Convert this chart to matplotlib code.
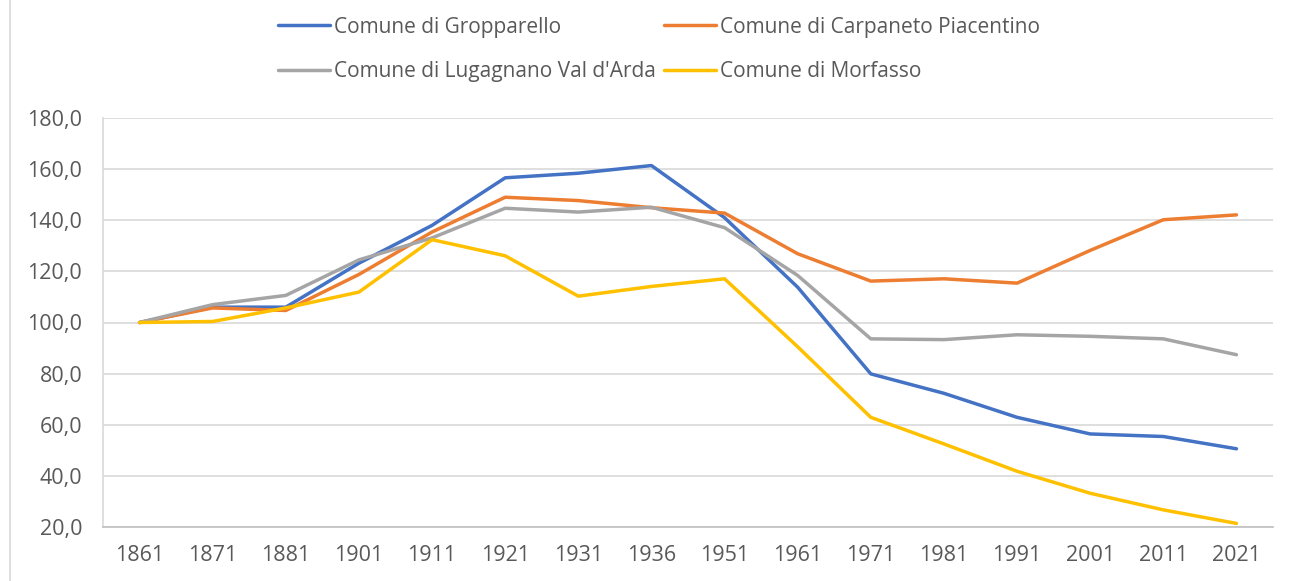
import matplotlib
matplotlib.use("Agg")
import matplotlib.pyplot as plt
from matplotlib.lines import Line2D

years = ['1861', '1871', '1881', '1901', '1911', '1921', '1931', '1936',
         '1951', '1961', '1971', '1981', '1991', '2001', '2011', '2021']
gropparello = [100, 106.0, 106.0, 123.2, 138.0, 156.6, 158.4, 161.4,
               141.0, 113.8, 79.9, 72.3, 62.9, 56.4, 55.4, 50.6]
carpaneto = [100, 105.7, 104.7, 118.8, 135.4, 149.0, 147.7, 144.9,
             142.8, 126.9, 116.2, 117.1, 115.4, 128.2, 140.2, 142.1]
lugagnano = [100, 107.0, 110.6, 124.5, 133.1, 144.7, 143.2, 145.1,
             137.1, 118.4, 93.6, 93.3, 95.2, 94.6, 93.6, 87.4]
morfasso = [100, 100.4, 105.7, 111.9, 132.4, 126.1, 110.3, 114.1,
            117.1, 90.5, 62.9, 52.5, 41.8, 33.2, 26.7, 21.4]
labels = ['Comune di Gropparello', 'Comune di Carpaneto Piacentino',
          "Comune di Lugagnano Val d'Arda", 'Comune di Morfasso']
yticks = [20, 40, 60, 80, 100, 120, 140, 160, 180]

colors = ['#4472C4', '#ED7D31', '#A5A5A5', '#FFC000']
txt = '#595959'

plt.rcParams['font.family'] = ['Open Sans', 'DejaVu Sans']

fig = plt.figure(figsize=(12.9, 5.81), dpi=100)
ax = fig.add_axes([103 / 1290, 1 - 527 / 581, (1273 - 103) / 1290, (527 - 118) / 581])

x = list(range(len(years)))
handles = []
for series, c, lab in zip([gropparello, carpaneto, lugagnano, morfasso], colors, labels):
    h, = ax.plot(x, series, color=c, lw=2.5, label=lab,
                 solid_joinstyle='round', solid_capstyle='round')
    handles.append(h)

ax.set_xlim(-0.5, len(years) - 0.5)
ax.set_ylim(20, 180)
ax.set_xticks(x)
ax.set_xticklabels(years)
ax.set_yticks(yticks)
ax.set_yticklabels([f"{v:.1f}".replace('.', ',') for v in yticks])
ax.tick_params(axis='both', length=0, labelsize=15.5, labelcolor=txt)
ax.tick_params(axis='y', pad=15)
ax.tick_params(axis='x', pad=13)
ax.grid(axis='y', color='#D9D9D9', lw=1.2)
ax.set_axisbelow(True)
for s in ['top', 'right']:
    ax.spines[s].set_visible(False)
ax.spines['left'].set_color('#D9D9D9')
ax.spines['left'].set_linewidth(1.2)
ax.spines['bottom'].set_color('#BFBFBF')
ax.spines['bottom'].set_linewidth(1.2)

# row-wise legend order (matplotlib fills columns first)
order = [0, 2, 1, 3]
leg = fig.legend(handles=[handles[i] for i in order], labels=[labels[i] for i in order],
                 ncol=2, loc='center',
                 bbox_to_anchor=(659 / 1290, 1 - 49.5 / 581), frameon=False,
                 fontsize=15, handlelength=2.5, handletextpad=0.2,
                 columnspacing=0.35, labelspacing=1.15, borderpad=0)
for t in leg.get_texts():
    t.set_color(txt)

fig.add_artist(Line2D([9.5 / 1290, 9.5 / 1290], [0, 1], color='#D9D9D9', lw=1.2,
                      transform=fig.transFigure))

fig.savefig('out.png', dpi=100)
